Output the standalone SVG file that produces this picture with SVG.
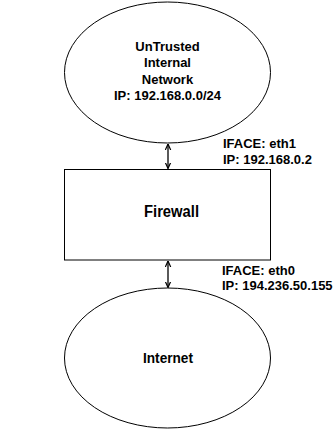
<svg xmlns="http://www.w3.org/2000/svg" width="336" height="432" viewBox="0 0 336 432">
<style>
.shape{fill:#fff;stroke:#000;stroke-width:1}
.b{font-family:"Liberation Sans",Arial,sans-serif;font-weight:bold;font-size:13px;fill:#000}
.big{font-family:"Liberation Sans",Arial,sans-serif;font-weight:bold;font-size:16px;fill:#000}
.c{text-anchor:middle}
.conn{stroke:#000;stroke-width:1.3;fill:none}
</style>
<defs>
<marker id="ah" viewBox="0 0 10 10" refX="10" refY="5" markerWidth="6" markerHeight="7" orient="auto-start-reverse" markerUnits="userSpaceOnUse">
<path d="M0,0.5 L10,5 L0,9.5" fill="none" stroke="#000" stroke-width="2"/>
</marker>
</defs>
<rect width="336" height="432" fill="#fff"/>
<g id="untrusted">
<ellipse class="shape" cx="167.5" cy="72.5" rx="103" ry="70.5"/>
<text class="b c" x="167.5" y="51">UnTrusted</text>
<text class="b c" x="167.5" y="67">Internal</text>
<text class="b c" x="167.5" y="83.5">Network</text>
<text class="b c" x="167.5" y="100">IP: 192.168.0.0/24</text>
</g>
<g id="firewall">
<rect class="shape" x="64.5" y="169.5" width="206" height="90.5"/>
<text class="big c" x="171.5" y="217" textLength="55" lengthAdjust="spacingAndGlyphs">Firewall</text>
</g>
<g id="internet">
<ellipse class="shape" cx="167.5" cy="358" rx="103" ry="70"/>
<text class="big c" x="168" y="362.5" style="font-size:15px" textLength="50" lengthAdjust="spacingAndGlyphs">Internet</text>
</g>
<g id="connectors">
<line class="conn" x1="168" y1="144" x2="168" y2="168.5" marker-start="url(#ah)" marker-end="url(#ah)"/>
<line class="conn" x1="168" y1="261" x2="168" y2="287.5" marker-start="url(#ah)" marker-end="url(#ah)"/>
</g>
<g id="labels">
<text class="b" x="223" y="148">IFACE: eth1</text>
<text class="b" x="223" y="163.5">IP: 192.168.0.2</text>
<text class="b" x="222" y="275">IFACE: eth0</text>
<text class="b" x="222" y="290">IP: 194.236.50.155</text>
</g>
</svg>
